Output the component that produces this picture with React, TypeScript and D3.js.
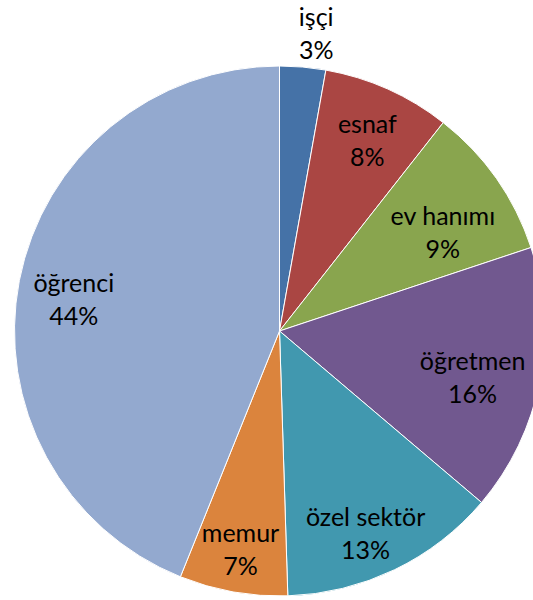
import { useEffect, useRef } from 'react';
import * as d3 from 'd3';

// shares of the pie, in percent
const categories = ['işçi', 'esnaf', 'ev hanımı', 'öğretmen', 'özel sektör', 'memur', 'öğrenci'];
const shares = [2.8, 7.8, 9.3, 16.3, 13.3, 6.6, 43.9];
const colors = ['#4572A7', '#AA4643', '#89A54E', '#71588F', '#4198AF', '#DB843D', '#93A9CF'];

// label placement like Excel's "best fit": radius factor and small angle nudge (deg)
const labelRadius = [1.13, 0.79, 0.72, 0.75, 0.83, 0.84, 0.785];
const labelNudge = [2, 0.7, 4, 2.7, 2.7, 0, -2.4];

const App = () => {
    const svgRef = useRef<SVGSVGElement>(null);
    const width = 533;
    const height = 600;

    useEffect(() => {
        const svg = d3.select(svgRef.current);
        svg.selectAll('*').remove();

        const cx = 279.5;
        const cy = 331;
        const radius = 265;

        const data = categories.map((name, i) => ({ name, value: shares[i], color: colors[i], i }));
        const total = d3.sum(shares);

        const pie = d3.pie<any>().sort(null).value(d => d.value);
        const arc = d3.arc<any>().innerRadius(0).outerRadius(radius);
        const pieData = pie(data);

        const group = svg.append('g').attr('transform', `translate(${cx}, ${cy})`);

        group.selectAll('path')
            .data(pieData)
            .enter()
            .append('path')
            .attr('d', arc)
            .attr('fill', d => d.data.color)
            .attr('stroke', 'white')
            .style('stroke-width', '1px');

        const labels = group.selectAll('g.label')
            .data(pieData)
            .enter()
            .append('g')
            .attr('class', 'label')
            .attr('transform', d => {
                const mid = (d.startAngle + d.endAngle) / 2 + labelNudge[d.data.i] * Math.PI / 180;
                const r = radius * labelRadius[d.data.i];
                return `translate(${r * Math.sin(mid)}, ${-r * Math.cos(mid)})`;
            });

        labels.append('text')
            .attr('text-anchor', 'middle')
            .attr('y', -16.5)
            .attr('dy', '0.35em')
            .style('font-family', 'Lato, sans-serif')
            .style('font-size', '25px')
            .style('fill', '#000')
            .text(d => d.data.name);

        labels.append('text')
            .attr('text-anchor', 'middle')
            .attr('y', 16.5)
            .attr('dy', '0.35em')
            .style('font-family', 'Lato, sans-serif')
            .style('font-size', '25px')
            .style('fill', '#000')
            .text(d => `${Math.round(d.data.value / total * 100)}%`);
    }, []);

    return (
        <svg
            ref={svgRef}
            width={width}
            height={height}
            style={{ position: 'absolute', left: 0, top: 0, background: '#fff' }}
        ></svg>
    );
};

export default App;
